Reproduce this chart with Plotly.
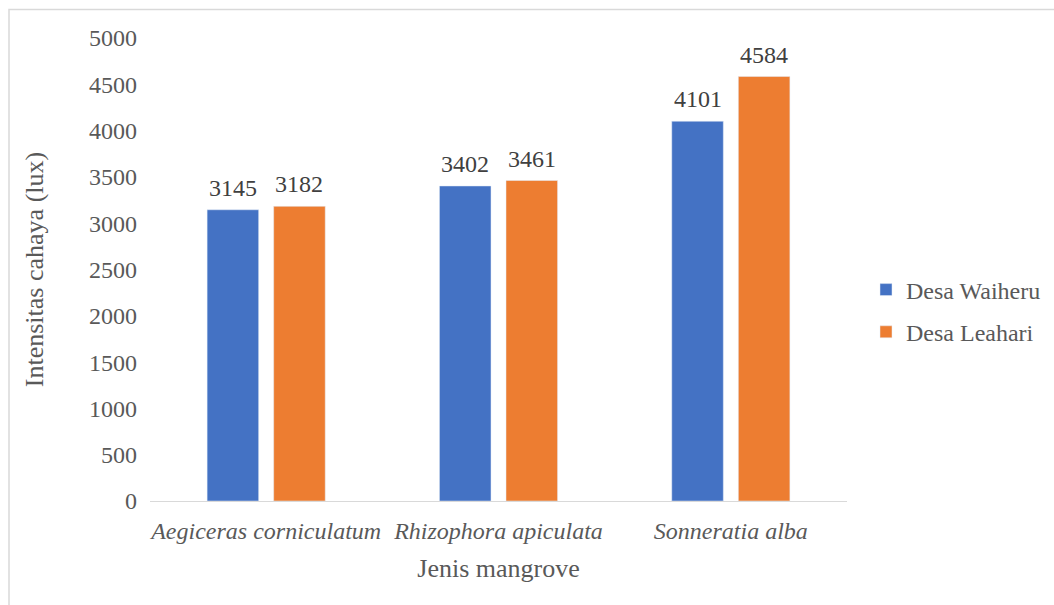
import plotly.graph_objects as go

categories = ["Aegiceras corniculatum", "Rhizophora apiculata", "Sonneratia alba"]
waiheru = [3145, 3402, 4101]
leahari = [3182, 3461, 4584]
series_names = ["Desa Waiheru", "Desa Leahari"]
y_ticks = [0, 500, 1000, 1500, 2000, 2500, 3000, 3500, 4000, 4500, 5000]

FONT = "Liberation Serif, Times New Roman, serif"
cat_labels = [f"<i>{c}</i>" for c in categories]

fig = go.Figure()
fig.add_trace(go.Bar(
    name=series_names[0], x=cat_labels, y=waiheru, legendgroup="a",
    marker=dict(color="#4472C4"),
))
fig.add_trace(go.Bar(
    name=series_names[1], x=cat_labels, y=leahari, legendgroup="b",
    marker=dict(color="#ED7D31"),
))

pl, pr, pt, pb = 150, 847, 38, 501
W, H = 1054, 605
pw, ph = pr - pl, pb - pt
bargap, bargroupgap = 0.427, 0.2256
slot_px = pw / len(categories) * (1 - bargap) / 2
offsets = [-slot_px / 2, slot_px / 2]

# data labels above bars
for vals, dx in zip([waiheru, leahari], offsets):
    for c, v in zip(cat_labels, vals):
        fig.add_annotation(x=c, y=v, text=str(v), showarrow=False,
                           xanchor="center", yanchor="bottom", xshift=dx, yshift=7,
                           font=dict(family=FONT, size=24, color="#404040"))

fig.update_layout(
    width=W, height=H,
    margin=dict(l=pl, r=W - pr, t=pt, b=H - pb, autoexpand=False),
    paper_bgcolor="white", plot_bgcolor="white",
    barmode="group", bargap=bargap, bargroupgap=bargroupgap,
    font=dict(family=FONT, size=24, color="#595959"),
    showlegend=True,
    legend=dict(x=(866 - pl) / pw, y=(pb - 311) / ph, xanchor="left", yanchor="middle",
                font=dict(family=FONT, size=24, color="#595959"),
                bgcolor="rgba(0,0,0,0)", itemwidth=30, tracegroupgap=8),
    xaxis=dict(
        showgrid=False, showline=True, linecolor="#D9D9D9", linewidth=1,
        ticks="", ticklabelstandoff=8,
        tickfont=dict(family=FONT, size=24, color="#595959"),
        title=dict(text="Jenis mangrove", standoff=16,
                   font=dict(family=FONT, size=26, color="#595959")),
    ),
    yaxis=dict(
        range=[0, 5000], tickvals=y_ticks, showgrid=False, showline=False,
        zeroline=False, ticks="", ticklabelstandoff=12,
        tickfont=dict(family=FONT, size=24, color="#595959"),
        title=dict(text="Intensitas cahaya (lux)", standoff=37,
                   font=dict(family=FONT, size=26, color="#595959")),
    ),
)

# chart border (Excel chart area outline)
fig.add_shape(type="rect", xref="paper", yref="paper",
              x0=(9 - pl) / pw, x1=(1060 - pl) / pw,
              y0=(pb - 612) / ph, y1=(pb - 9.5) / ph,
              line=dict(color="#D9D9D9", width=1.5), fillcolor="rgba(0,0,0,0)", layer="below")

fig.write_html("out.html")
